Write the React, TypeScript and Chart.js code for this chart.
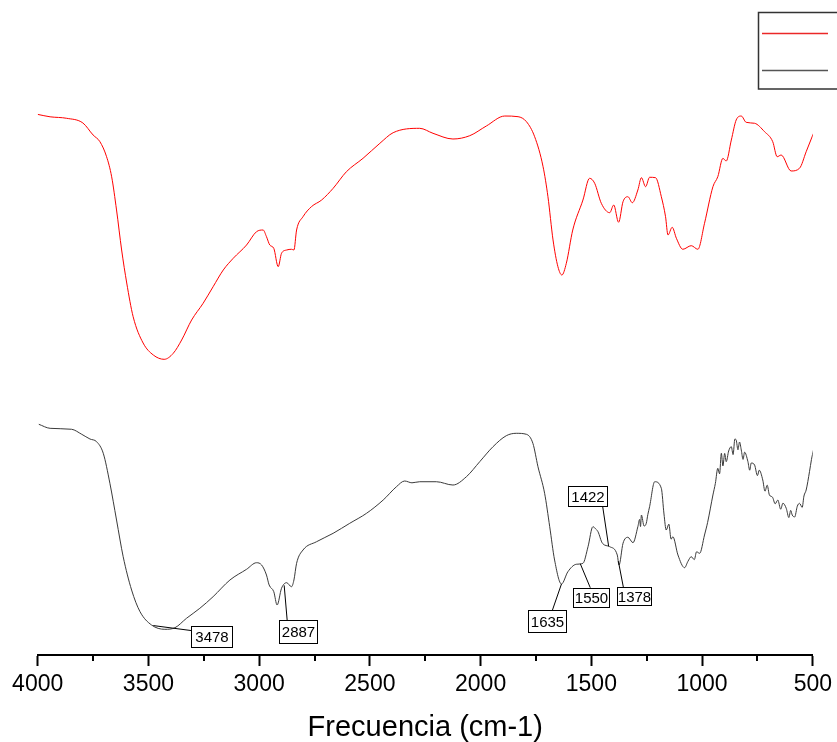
import React, { useEffect, useRef } from "react";
import { Chart, registerables } from "chart.js";

Chart.register(...registerables);

// Upper spectrum (red)
const redWavenumbers = [
  4000, 3944, 3869, 3796, 3750, 3719, 3689, 3666, 3644, 3621, 3598, 3569, 3524, 3478, 3429, 3388,
  3350, 3305, 3253, 3208, 3162, 3117, 3057, 3012, 2982, 2967, 2952, 2934, 2914, 2899, 2876, 2854,
  2843, 2831, 2802, 2764, 2718, 2666, 2606, 2531, 2455, 2395, 2275, 2215, 2125, 2049, 1974, 1891,
  1831, 1793, 1756, 1718, 1696, 1673, 1651, 1633, 1613, 1584, 1538, 1508, 1485, 1455, 1417, 1399,
  1377, 1357, 1335, 1315, 1290, 1274, 1255, 1237, 1210, 1184, 1165, 1154, 1135, 1116, 1087, 1049,
  1019, 989, 951, 929, 906, 891, 868, 846, 823, 801, 763, 718, 681, 661, 643, 598, 560, 530, 497,
];
const redTransmittance = [
  90.1, 89.7, 89.45, 88.67, 86.67, 85.55, 83.05, 79.7, 74.17, 67.5, 62.0, 56.38, 52.0, 50.0, 49.28, 50.28,
  52.5, 55.83, 58.62, 61.38, 64.17, 66.12, 68.33, 70.55, 70.83, 69.72, 68.33, 67.78, 64.72, 66.95, 67.5, 67.62,
  67.5, 70.83, 73.05, 74.72, 75.83, 77.78, 80.55, 82.78, 85.28, 87.05, 87.78, 86.95, 86.0, 86.55, 88.17, 89.83,
  89.72, 88.88, 86.38, 81.38, 76.38, 69.17, 64.72, 63.33, 65.28, 70.83, 75.83, 79.45, 78.62, 75.28, 73.72, 75.0,
  72.12, 75.55, 76.38, 75.38, 77.5, 79.55, 78.05, 79.62, 79.55, 76.38, 73.05, 70.0, 71.28, 69.45, 67.62, 68.22,
  67.62, 71.95, 78.05, 79.72, 82.78, 82.33, 85.83, 89.17, 89.83, 88.78, 88.62, 87.22, 85.55, 83.05, 83.33, 80.67,
  81.12, 83.88, 86.95,
];

// Lower spectrum (black)
const blackWavenumbers = [
  3995, 3944, 3847, 3801, 3764, 3734, 3704, 3674, 3644, 3614, 3576, 3538, 3486, 3426, 3380, 3328,
  3268, 3208, 3132, 3057, 3012, 2989, 2967, 2955, 2934, 2919, 2899, 2876, 2854, 2843, 2831, 2802,
  2741, 2666, 2591, 2515, 2440, 2380, 2343, 2310, 2275, 2200, 2125, 2064, 2004, 1944, 1884, 1839,
  1793, 1764, 1741, 1711, 1688, 1666, 1635, 1606, 1568, 1538, 1515, 1493, 1480, 1470, 1450, 1417,
  1383, 1375, 1357, 1335, 1312, 1290, 1282, 1278, 1274, 1262, 1252, 1245, 1237, 1214, 1184, 1172,
  1162, 1150, 1140, 1132, 1109, 1079, 1064, 1049, 1035, 1025, 1011, 989, 975, 951, 940, 929,
  921, 913, 906, 898, 891, 880, 868, 860, 852, 846, 838, 831, 823, 815, 808, 793,
  785, 778, 763, 750, 742, 726, 716, 706, 696, 682, 670, 658, 645, 635, 620, 608,
  600, 593, 582, 570, 560, 548, 540, 530, 515, 506, 497,
];
const blackTransmittance = [
  38.45, 37.78, 37.62, 36.78, 36.0, 35.55, 33.62, 28.62, 22.5, 16.38, 10.83, 7.22, 5.0, 4.28, 4.55, 6.12,
  7.78, 9.72, 12.5, 14.28, 15.38, 15.0, 13.33, 11.67, 10.55, 8.33, 11.12, 12.05, 11.38, 12.5, 15.28, 17.5,
  18.88, 20.28, 21.95, 23.62, 25.83, 28.05, 29.0, 28.7, 28.88, 28.88, 28.33, 29.72, 32.22, 34.72, 36.55, 36.95,
  36.78, 35.28, 31.38, 26.95, 21.38, 15.83, 11.83, 13.88, 15.12, 15.28, 18.05, 21.38, 21.0, 20.55, 18.62, 18.05,
  16.67, 15.0, 18.62, 19.62, 18.72, 21.38, 22.6, 21.4, 23.33, 21.5, 21.95, 23.4, 24.72, 28.88, 27.78, 23.5,
  20.83, 21.8, 19.3, 19.72, 16.67, 14.55, 15.6, 16.38, 15.9, 17.2, 16.95, 20.0, 22.1, 26.67, 28.6, 31.12,
  30.2, 33.62, 31.5, 33.6, 32.22, 34.0, 34.72, 33.4, 36.0, 35.83, 34.2, 35.5, 34.17, 32.6, 33.8, 32.22,
  30.8, 32.0, 31.67, 29.9, 30.8, 29.17, 27.3, 28.3, 26.67, 26.3, 25.2, 25.83, 24.3, 25.3, 24.45, 22.9,
  24.1, 23.33, 23.0, 24.8, 25.28, 24.6, 26.5, 27.5, 30.55, 32.6, 34.17,
];

// Peaks labelled on the lower spectrum
const peakLabels = [3478, 2887, 1635, 1550, 1422, 1378];

const axisMin = 500;
const axisMax = 4000;
const majorStep = 500;
const minorStep = 250;
const axisTitle = "Frecuencia (cm-1)";

// Label box placement, in pixels relative to the labelled point
const peakBoxes = [
  { dx: 38, dy: 0, w: 41, h: 21, ex: 38, ey: 5 },
  { dx: -5, dy: 35, w: 38, h: 23, ex: 3, ey: 35 },
  { dx: -33, dy: 26, w: 38, h: 22, ex: -9, ey: 26 },
  { dx: -7, dy: 24, w: 36, h: 19, ex: 10, ey: 24 },
  { dx: -41, dy: -60, w: 39, h: 20, ex: -6, ey: -40 },
  { dx: -1, dy: 26, w: 34, h: 18, ex: 5, ey: 26 },
];

const FONT = "'Liberation Sans', Arial, sans-serif";

function toPoints(xs: number[], ys: number[]) {
  return xs.map((x, i) => ({ x, y: ys[i] }));
}

function valueAt(xs: number[], ys: number[], x: number) {
  for (let i = 0; i < xs.length - 1; i++) {
    const a = xs[i];
    const b = xs[i + 1];
    if ((x <= a && x >= b) || (x >= a && x <= b)) {
      const t = (x - a) / (b - a);
      return ys[i] + t * (ys[i + 1] - ys[i]);
    }
  }
  return ys[ys.length - 1];
}

const minorTicksPlugin = {
  id: "minorTicks",
  afterDraw(chart: any) {
    const { ctx, chartArea, scales } = chart;
    const xs = scales.x;
    ctx.save();
    ctx.strokeStyle = "#000";
    ctx.lineWidth = 2;
    for (let v = axisMin + minorStep; v < axisMax; v += majorStep) {
      const px = Math.round(xs.getPixelForValue(v));
      ctx.beginPath();
      ctx.moveTo(px, chartArea.bottom);
      ctx.lineTo(px, chartArea.bottom + 6);
      ctx.stroke();
    }
    ctx.restore();
  },
};

const peakLabelPlugin = {
  id: "peakLabels",
  afterDatasetsDraw(chart: any) {
    const { ctx, scales } = chart;
    ctx.save();
    ctx.font = `15px ${FONT}`;
    ctx.textAlign = "center";
    ctx.textBaseline = "middle";
    peakLabels.forEach((wn, i) => {
      const box = peakBoxes[i];
      const px = scales.x.getPixelForValue(wn);
      const py = scales.y.getPixelForValue(valueAt(blackWavenumbers, blackTransmittance, wn));
      ctx.strokeStyle = "#000";
      ctx.lineWidth = 1;
      ctx.beginPath();
      ctx.moveTo(px, py);
      ctx.lineTo(px + box.ex, py + box.ey);
      ctx.stroke();
      const bx = Math.round(px + box.dx) + 0.5;
      const by = Math.round(py + box.dy) + 0.5;
      ctx.fillStyle = "#fff";
      ctx.fillRect(bx, by, box.w, box.h);
      ctx.strokeRect(bx, by, box.w, box.h);
      ctx.fillStyle = "#000";
      ctx.fillText(String(wn), bx + box.w / 2, by + box.h / 2 + 1);
    });
    ctx.restore();
  },
};

const legendBoxPlugin = {
  id: "legendBox",
  afterDraw(chart: any) {
    const { ctx } = chart;
    ctx.save();
    ctx.strokeStyle = "#333";
    ctx.lineWidth = 1.5;
    ctx.strokeRect(758.5, 12.5, 120, 76.5);
    ctx.lineWidth = 1.5;
    ctx.strokeStyle = "rgb(235, 40, 40)";
    ctx.beginPath();
    ctx.moveTo(762, 33.5);
    ctx.lineTo(828, 33.5);
    ctx.stroke();
    ctx.strokeStyle = "#555";
    ctx.beginPath();
    ctx.moveTo(762, 70.5);
    ctx.lineTo(828, 70.5);
    ctx.stroke();
    ctx.restore();
  },
};

export default function App() {
  const canvasRef = useRef<HTMLCanvasElement | null>(null);

  useEffect(() => {
    if (!canvasRef.current) return;
    const chart = new Chart(canvasRef.current, {
      type: "line",
      data: {
        datasets: [
          {
            label: "",
            data: toPoints(redWavenumbers, redTransmittance),
            borderColor: "#ff0000",
            borderWidth: 1,
            pointRadius: 0,
            cubicInterpolationMode: "monotone",
          },
          {
            label: "",
            data: toPoints(blackWavenumbers, blackTransmittance),
            borderColor: "#3a3a3a",
            borderWidth: 1,
            pointRadius: 0,
            cubicInterpolationMode: "monotone",
          },
        ],
      },
      options: {
        responsive: false,
        animation: false,
        events: [],
        layout: { padding: { left: 37.7, right: 23.7, top: 55, bottom: 0 } },
        plugins: { legend: { display: false }, tooltip: { enabled: false } },
        scales: {
          x: {
            type: "linear",
            reverse: true,
            min: axisMin,
            max: axisMax,
            grid: {
              display: true,
              drawOnChartArea: false,
              drawTicks: true,
              tickLength: 11,
              tickWidth: 2,
              tickColor: "#000",
            },
            border: { display: true, color: "#000", width: 2 },
            ticks: {
              stepSize: majorStep,
              padding: 5,
              color: "#000",
              maxRotation: 0,
              callback: (v: any) => String(v),
              font: { family: FONT, size: 23, lineHeight: 1.2 },
            },
            title: {
              display: true,
              text: axisTitle,
              color: "#000",
              padding: { top: 9.4, bottom: 0 },
              font: { family: FONT, size: 29, lineHeight: 1 },
            },
          },
          y: { display: false, min: 0, max: 100 },
        },
      },
      plugins: [minorTicksPlugin, peakLabelPlugin, legendBoxPlugin],
    });
    return () => chart.destroy();
  }, []);

  return (
    <div style={{ position: "absolute", left: 0, top: 0, width: 837, height: 742, background: "#fff" }}>
      <canvas ref={canvasRef} width={837} height={742} />
    </div>
  );
}
